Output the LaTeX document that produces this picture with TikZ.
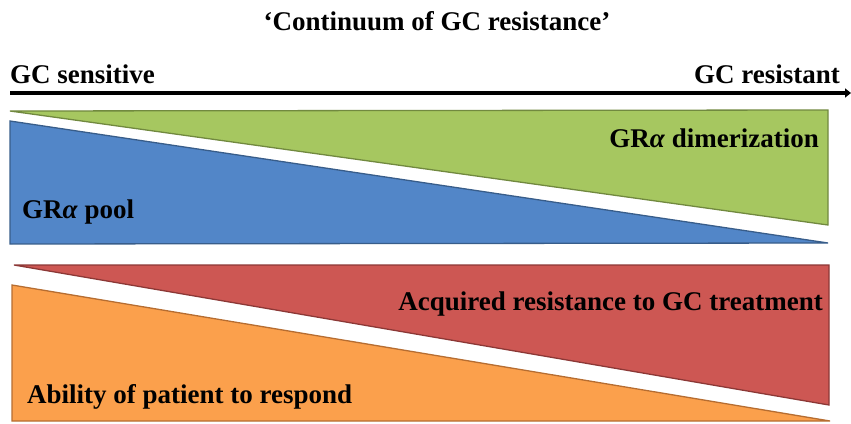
\documentclass[tikz,border=0pt]{standalone}
\usepackage{fontspec}
\setmainfont{Liberation Serif}
\usetikzlibrary{arrows.meta}
\definecolor{cgreen}{RGB}{166,199,96}
\definecolor{cgreenD}{HTML}{71893F}
\definecolor{cblue}{RGB}{82,134,200}
\definecolor{cblueD}{HTML}{385D8A}
\definecolor{cred}{RGB}{205,87,83}
\definecolor{credD}{HTML}{8C3836}
\definecolor{corange}{RGB}{251,160,76}
\definecolor{corangeD}{HTML}{B66D31}
\begin{document}
\begin{tikzpicture}[x=1pt,y=-1pt,
  lbl/.style={inner sep=0pt, font=\fontsize{27}{30}\selectfont\bfseries, text=black},
  tri/.style={line width=1.3pt, line join=miter}]
\useasboundingbox (0,0) rectangle (851,423);
% title and axis labels
\node[lbl, anchor=base] (title) at (437,30) {‘Continuum of GC resistance’};
\node[lbl, anchor=base west] (sens) at (10,83) {GC sensitive};
\node[lbl, anchor=base east] (res) at (840,83) {GC resistant};
\coordinate (axL) at (10,93);
\coordinate (axR) at (851,93);
\draw[line width=4pt, -{Triangle[length=6pt,width=9pt]}] (axL) -- (axR);
% shapes
\filldraw[tri, fill=cgreen, draw=cgreenD] (10,111) -- (828,110) -- (828,225) -- cycle;
\filldraw[tri, fill=cblue, draw=cblueD] (10,121) -- (828,243) -- (10,244) -- cycle;
\filldraw[tri, fill=cred, draw=credD] (14,265) -- (829,265) -- (829,405) -- cycle;
\filldraw[tri, fill=corange, draw=corangeD] (12,285) -- (830,421) -- (12,421) -- cycle;
% labels
\node[lbl, anchor=base east] (dim) at (819,147) {GR\textit{α} dimerization};
\node[lbl, anchor=base west] (pool) at (22,218) {GR\textit{α} pool};
\node[lbl, anchor=base east] (acq) at (823,310) {Acquired resistance to GC treatment};
\node[lbl, anchor=base west] (abl) at (27,403) {Ability of patient to respond};
\end{tikzpicture}
\end{document}
